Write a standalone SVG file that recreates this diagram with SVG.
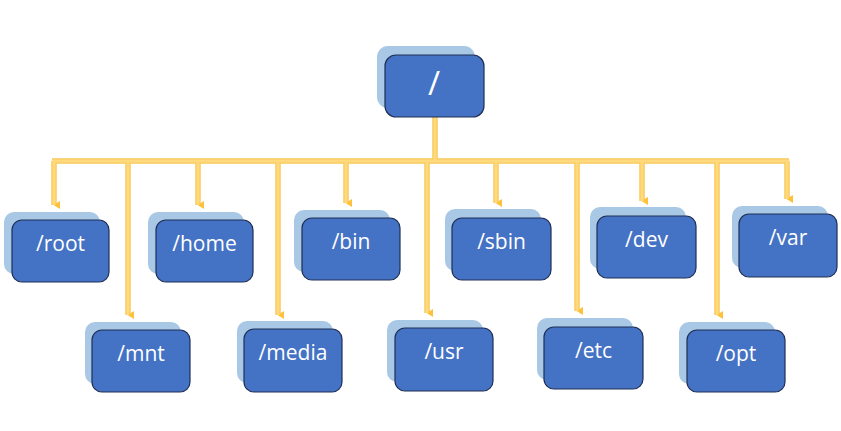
<svg xmlns="http://www.w3.org/2000/svg" width="841" height="431" viewBox="0 0 841 431">
<defs>
<style>
.back{fill:#A8C8E6;}
.front{fill:#4472C4;stroke:#1F2F55;stroke-width:1.2;}
.lbl{fill:#FFFFFF;font-family:"Open Sans","Noto Sans",sans-serif;font-size:21px;text-anchor:middle;}
.wire{fill:none;stroke:#F8C95A;stroke-width:5.5;}
.wirein{fill:none;stroke:#FFDA7C;stroke-width:3;}
</style>
<marker id="ah" markerUnits="userSpaceOnUse" markerWidth="10" markerHeight="8" refX="5" refY="7" orient="auto" viewBox="0 0 10 8">
<path d="M1,1 L9,1 L5,7.5 Z" fill="#FFC13A"/>
</marker>
</defs>
<rect width="841" height="431" fill="#FFFFFF"/>
<g id="connectors">
<path class="wire" d="M435,117 V161"/>
<path class="wire" d="M52,161 H789"/>
<path class="wire" d="M54,161 V205" marker-end="url(#ah)"/>
<path class="wire" d="M198,161 V205" marker-end="url(#ah)"/>
<path class="wire" d="M346,161 V203" marker-end="url(#ah)"/>
<path class="wire" d="M496,161 V203" marker-end="url(#ah)"/>
<path class="wire" d="M642,161 V201" marker-end="url(#ah)"/>
<path class="wire" d="M787,161 V199" marker-end="url(#ah)"/>
<path class="wire" d="M128,161 V315" marker-end="url(#ah)"/>
<path class="wire" d="M278,161 V315" marker-end="url(#ah)"/>
<path class="wire" d="M427,161 V313" marker-end="url(#ah)"/>
<path class="wire" d="M577,161 V311" marker-end="url(#ah)"/>
<path class="wire" d="M717,161 V315" marker-end="url(#ah)"/>
<path class="wirein" d="M435,117 V161 M52,161 H789 M54,161 V205 M198,161 V205 M346,161 V203 M496,161 V203 M642,161 V201 M787,161 V199 M128,161 V315 M278,161 V315 M427,161 V313 M577,161 V311 M717,161 V315"/>
</g>
<g id="node-root">
<rect class="back" x="377" y="46" width="98" height="62" rx="11"/>
<rect class="front" x="385" y="55" width="99" height="62" rx="11"/>
<text class="lbl" x="434" y="95" style="font-size:33px">/</text>
</g>
<g id="node-slash-root">
<rect class="back" x="4" y="212" width="96" height="62" rx="10"/>
<rect class="front" x="12" y="220" width="97" height="62" rx="10"/>
<text class="lbl" x="60.5" y="251">/root</text>
</g>
<g id="node-home">
<rect class="back" x="148" y="212" width="96" height="62" rx="10"/>
<rect class="front" x="156" y="220" width="97" height="62" rx="10"/>
<text class="lbl" x="204.5" y="251">/home</text>
</g>
<g id="node-bin">
<rect class="back" x="294" y="210" width="96" height="62" rx="10"/>
<rect class="front" x="302" y="218" width="98" height="62" rx="10"/>
<text class="lbl" x="351" y="249">/bin</text>
</g>
<g id="node-sbin">
<rect class="back" x="445" y="209" width="96" height="62" rx="10"/>
<rect class="front" x="452" y="218" width="99" height="62" rx="10"/>
<text class="lbl" x="501.5" y="249">/sbin</text>
</g>
<g id="node-dev">
<rect class="back" x="590" y="207" width="96" height="62" rx="10"/>
<rect class="front" x="597" y="216" width="99" height="62" rx="10"/>
<text class="lbl" x="646.5" y="247">/dev</text>
</g>
<g id="node-var">
<rect class="back" x="732" y="206" width="96" height="62" rx="10"/>
<rect class="front" x="739" y="214" width="98" height="63" rx="10"/>
<text class="lbl" x="788" y="245">/var</text>
</g>
<g id="node-mnt">
<rect class="back" x="85" y="322" width="96" height="62" rx="10"/>
<rect class="front" x="92" y="330" width="98" height="62" rx="10"/>
<text class="lbl" x="141" y="361">/mnt</text>
</g>
<g id="node-media">
<rect class="back" x="237" y="321" width="96" height="62" rx="10"/>
<rect class="front" x="244" y="329" width="98" height="63" rx="10"/>
<text class="lbl" x="293" y="360">/media</text>
</g>
<g id="node-usr">
<rect class="back" x="387" y="320" width="96" height="62" rx="10"/>
<rect class="front" x="395" y="328" width="98" height="63" rx="10"/>
<text class="lbl" x="444" y="359">/usr</text>
</g>
<g id="node-etc">
<rect class="back" x="537" y="318" width="96" height="62" rx="10"/>
<rect class="front" x="544" y="327" width="99" height="62" rx="10"/>
<text class="lbl" x="593.5" y="358">/etc</text>
</g>
<g id="node-opt">
<rect class="back" x="679" y="322" width="96" height="62" rx="10"/>
<rect class="front" x="687" y="330" width="98" height="62" rx="10"/>
<text class="lbl" x="736" y="361">/opt</text>
</g>
</svg>
